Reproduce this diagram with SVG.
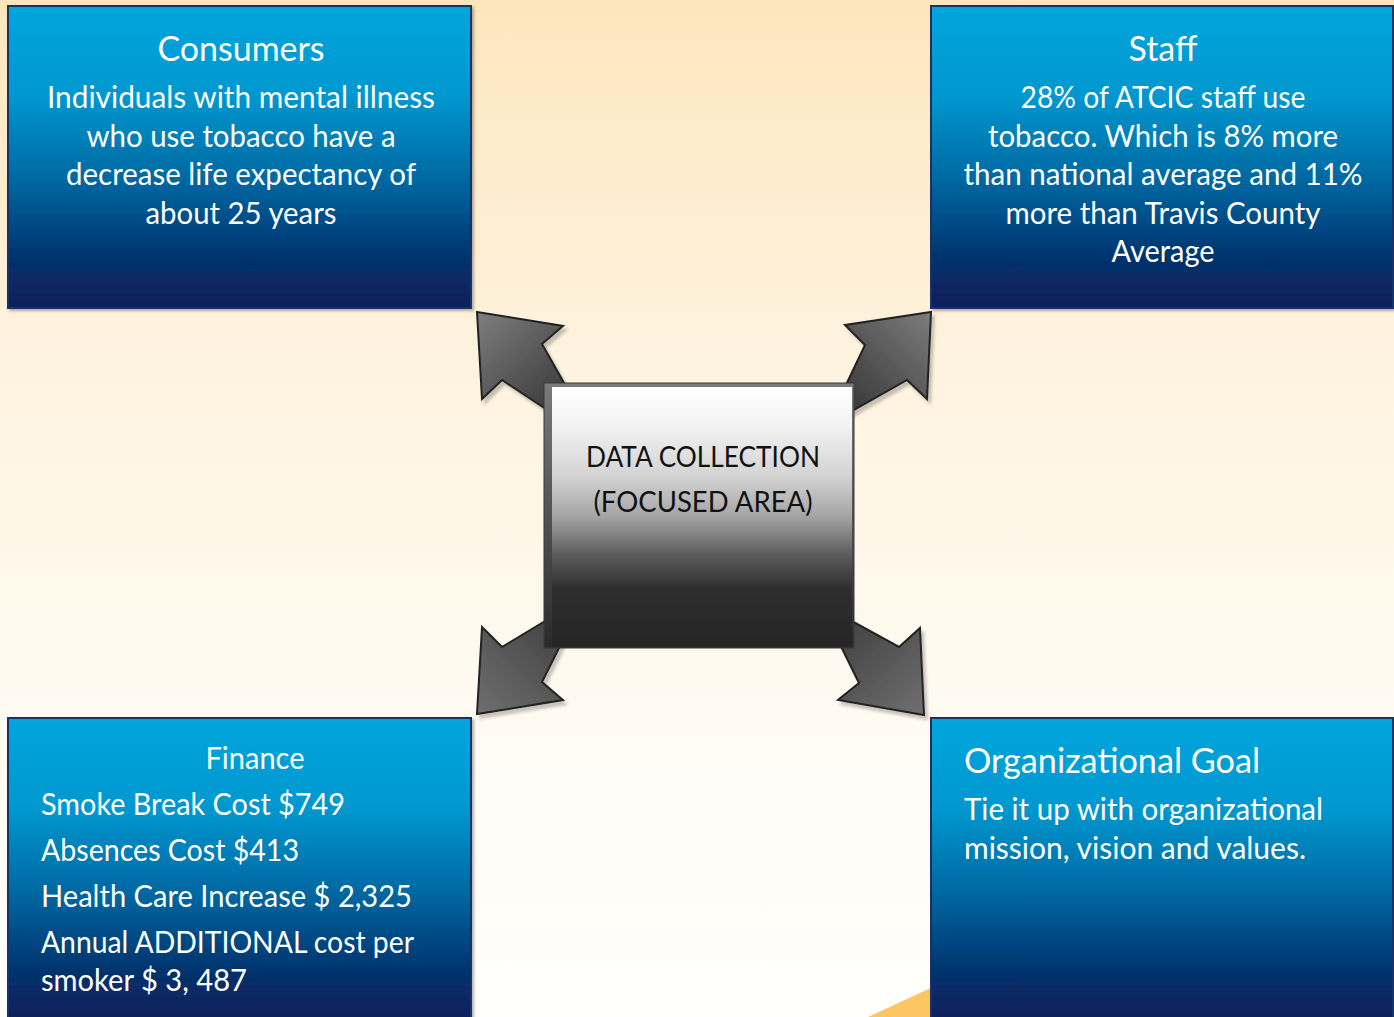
<svg xmlns="http://www.w3.org/2000/svg" width="1394" height="1017" viewBox="0 0 1394 1017">
  <defs>
    <linearGradient id="bg" x1="0" y1="0" x2="0" y2="1">
      <stop offset="0" stop-color="#fde6bd"/>
      <stop offset="0.35" stop-color="#fef3df"/>
      <stop offset="0.7" stop-color="#fffbf2"/>
      <stop offset="1" stop-color="#fffffd"/>
    </linearGradient>
    <linearGradient id="blueFill" x1="0" y1="0" x2="0" y2="1">
      <stop offset="0" stop-color="#00a6dd"/>
      <stop offset="0.3" stop-color="#0097cf"/>
      <stop offset="0.6" stop-color="#00639d"/>
      <stop offset="0.85" stop-color="#06306b"/>
      <stop offset="1" stop-color="#0a1f5a"/>
    </linearGradient>
    <linearGradient id="centerFrame" x1="0" y1="0" x2="0" y2="1">
      <stop offset="0" stop-color="#7a7a7a"/>
      <stop offset="1" stop-color="#2a2a2a"/>
    </linearGradient>
    <linearGradient id="centerFill" x1="0" y1="0" x2="0" y2="1">
      <stop offset="0" stop-color="#ffffff"/>
      <stop offset="0.15" stop-color="#f2f2f2"/>
      <stop offset="0.35" stop-color="#d2d2d2"/>
      <stop offset="0.5" stop-color="#a4a4a4"/>
      <stop offset="0.65" stop-color="#5c5c5c"/>
      <stop offset="0.78" stop-color="#2e2e2e"/>
      <stop offset="1" stop-color="#252525"/>
    </linearGradient>
    <linearGradient id="arrowTL" gradientUnits="userSpaceOnUse" x1="560" y1="400" x2="480" y2="315">
      <stop offset="0" stop-color="#3c3c3c"/>
      <stop offset="1" stop-color="#7c7c7c"/>
    </linearGradient>
    <linearGradient id="arrowTR" gradientUnits="userSpaceOnUse" x1="845" y1="400" x2="928" y2="315">
      <stop offset="0" stop-color="#3a3a3a"/>
      <stop offset="1" stop-color="#7a7a7a"/>
    </linearGradient>
    <linearGradient id="arrowBL" gradientUnits="userSpaceOnUse" x1="560" y1="630" x2="480" y2="712">
      <stop offset="0" stop-color="#444444"/>
      <stop offset="1" stop-color="#6e6e6e"/>
    </linearGradient>
    <linearGradient id="arrowBR" gradientUnits="userSpaceOnUse" x1="845" y1="630" x2="922" y2="712">
      <stop offset="0" stop-color="#444444"/>
      <stop offset="1" stop-color="#6e6e6e"/>
    </linearGradient>
    <filter id="arrowShadow" x="-20%" y="-20%" width="150%" height="150%">
      <feDropShadow dx="3" dy="4" stdDeviation="1.5" flood-color="#000000" flood-opacity="0.22"/>
    </filter>
    <filter id="boxShadow" x="-5%" y="-5%" width="112%" height="112%">
      <feDropShadow dx="2" dy="2" stdDeviation="1.5" flood-color="#000000" flood-opacity="0.3"/>
    </filter>
  </defs>
  <style>
    .box { fill: url(#blueFill); stroke: #13306a; stroke-width: 2; filter: url(#boxShadow); }
    .arrow { stroke: #222222; stroke-width: 2; stroke-linejoin: miter; filter: url(#arrowShadow); }
    .t { font-family: Lato, "Open Sans", sans-serif; fill: #ffffff; }
    .title { font-size: 34px; }
    .body { font-size: 30px; }
    .mid { text-anchor: middle; }
    .center-text { font-family: Lato, "Open Sans", sans-serif; font-size: 28px; fill: #111111; text-anchor: middle; }
  </style>

  <!-- page background -->
  <rect x="0" y="0" width="1394" height="1017" fill="url(#bg)"/>
  <!-- accent wedge peeking out below the goal box -->
  <polygon points="868,1017 935,986 935,1017" fill="#fdc662"/>

  <!-- top-left node -->
  <g id="consumers">
    <rect class="box" x="8" y="6" width="463" height="302"/>
    <text class="t title mid" x="241" y="61" textLength="167" lengthAdjust="spacingAndGlyphs">Consumers</text>
    <text class="t body mid" x="241" y="108" textLength="388" lengthAdjust="spacingAndGlyphs">Individuals with mental illness</text>
    <text class="t body mid" x="241" y="146.5" textLength="309" lengthAdjust="spacingAndGlyphs">who use tobacco have a</text>
    <text class="t body mid" x="241" y="185" textLength="350" lengthAdjust="spacingAndGlyphs">decrease life expectancy of</text>
    <text class="t body mid" x="241" y="223.5" textLength="191" lengthAdjust="spacingAndGlyphs">about 25 years</text>
  </g>

  <!-- top-right node -->
  <g id="staff">
    <rect class="box" x="931" y="6" width="462" height="302"/>
    <text class="t title mid" x="1163" y="61" textLength="69" lengthAdjust="spacingAndGlyphs">Staff</text>
    <text class="t body mid" x="1163" y="108" textLength="285" lengthAdjust="spacingAndGlyphs">28% of ATCIC staff use</text>
    <text class="t body mid" x="1163" y="146.5" textLength="350" lengthAdjust="spacingAndGlyphs">tobacco. Which is 8% more</text>
    <text class="t body mid" x="1163" y="185" textLength="399" lengthAdjust="spacingAndGlyphs">than national average and 11%</text>
    <text class="t body mid" x="1163" y="223.5" textLength="315" lengthAdjust="spacingAndGlyphs">more than Travis County</text>
    <text class="t body mid" x="1163" y="262" textLength="103" lengthAdjust="spacingAndGlyphs">Average</text>
  </g>

  <!-- bottom-left node -->
  <g id="finance">
    <rect class="box" x="8" y="718" width="463" height="304"/>
    <text class="t body mid" x="255" y="769" textLength="99" lengthAdjust="spacingAndGlyphs">Finance</text>
    <text class="t body" x="41" y="815" textLength="304" lengthAdjust="spacingAndGlyphs">Smoke Break Cost $749</text>
    <text class="t body" x="41" y="861" textLength="258" lengthAdjust="spacingAndGlyphs">Absences Cost $413</text>
    <text class="t body" x="41" y="907" textLength="371" lengthAdjust="spacingAndGlyphs">Health Care Increase $ 2,325</text>
    <text class="t body" x="41" y="953" textLength="373" lengthAdjust="spacingAndGlyphs">Annual ADDITIONAL cost per</text>
    <text class="t body" x="41" y="991" textLength="206" lengthAdjust="spacingAndGlyphs">smoker $ 3, 487</text>
  </g>

  <!-- bottom-right node -->
  <g id="organizational-goal">
    <rect class="box" x="931" y="718" width="462" height="304"/>
    <text class="t title" x="964" y="773" textLength="296" lengthAdjust="spacingAndGlyphs">Organizational Goal</text>
    <text class="t body" x="964" y="820" textLength="359" lengthAdjust="spacingAndGlyphs">Tie it up with organizational</text>
    <text class="t body" x="964" y="859" textLength="342" lengthAdjust="spacingAndGlyphs">mission, vision and values.</text>
  </g>

  <!-- block arrows radiating from the hub -->
  <g id="connectors">
    <polygon class="arrow" fill="url(#arrowTL)" points="477,312 563,326 542,344 585,420 570,425 502,380 482,399"/>
    <polygon class="arrow" fill="url(#arrowTR)" points="931,312 927,399 907,380 836,420 833,412 865,345 845,325"/>
    <polygon class="arrow" fill="url(#arrowBL)" points="477,714 482,627 502,647 570,606 576,614 542,682 563,700"/>
    <polygon class="arrow" fill="url(#arrowBR)" points="924,715 920,628 899,647 830,609 825,614 859,683 838,700"/>
  </g>

  <!-- central hub -->
  <g id="data-collection">
    <rect x="544" y="383" width="310" height="265" fill="url(#centerFrame)" stroke="#3a3a3a" stroke-width="1"/>
    <rect x="552" y="387" width="300" height="259" fill="url(#centerFill)"/>
    <text class="center-text" x="703" y="467" textLength="234" lengthAdjust="spacingAndGlyphs">DATA COLLECTION</text>
    <text class="center-text" x="703" y="512" textLength="219" lengthAdjust="spacingAndGlyphs">(FOCUSED AREA)</text>
  </g>
</svg>
